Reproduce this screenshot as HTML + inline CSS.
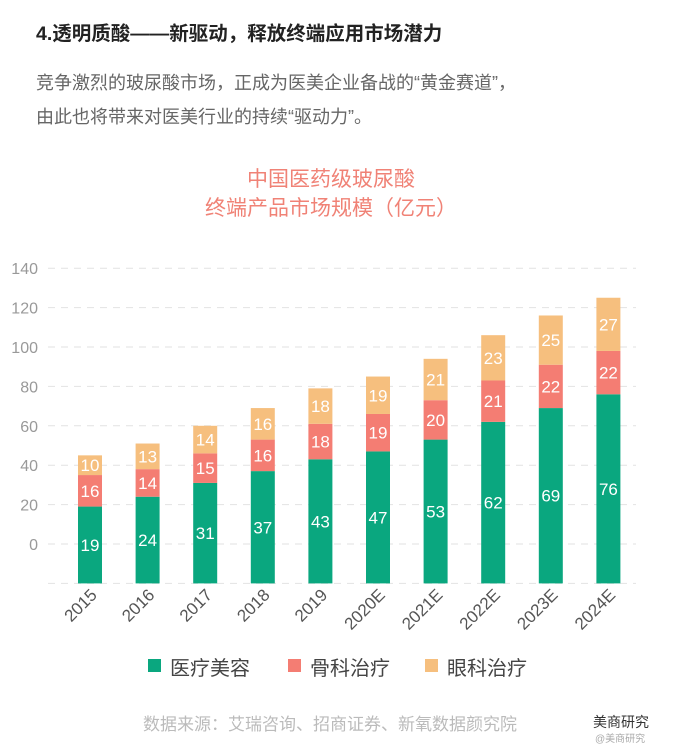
<!DOCTYPE html>
<html><head><meta charset="utf-8">
<style>
body{margin:0;width:678px;height:753px;background:#fff;overflow:hidden;font-family:"Liberation Sans","Noto Sans CJK SC",sans-serif;}
svg{position:absolute;left:0;top:0}
</style></head>
<body>
<svg width="678" height="753">
<text x="36" y="40" font-size="19.5" font-weight="bold" fill="#222">4.透明质酸——新驱动，释放终端应用市场潜力</text>
<text x="36" y="89" font-size="18" fill="#666">竞争激烈的玻尿酸市场，正成为医美企业备战的“黄金赛道”，</text>
<text x="36" y="123" font-size="18" fill="#666">由此也将带来对医美行业的持续“驱动力”。</text>
<text x="331" y="186" font-size="21" fill="#f08276" text-anchor="middle">中国医药级玻尿酸</text>
<text x="331" y="215" font-size="21" fill="#f08276" text-anchor="middle">终端产品市场规模（亿元）</text>
<g id="grid"></g><g id="bars"></g><g id="xlabels"></g>
<g>
<rect x="148" y="659" width="13" height="13" fill="#0aa77f"/>
<text x="170" y="675" font-size="20" fill="#444">医疗美容</text>
<rect x="288" y="659" width="13" height="13" fill="#f47d73"/>
<text x="310" y="675" font-size="20" fill="#444">骨科治疗</text>
<rect x="425" y="659" width="13" height="13" fill="#f6bf7e"/>
<text x="447" y="675" font-size="20" fill="#444">眼科治疗</text>
</g>
<text x="143" y="730" font-size="17" fill="#bbb">数据来源：艾瑞咨询、招商证券、新氧数据颜究院</text>
<text x="593" y="727" font-size="14" fill="#333">美商研究</text>
<text x="595" y="742" font-size="10" fill="#aaa">@美商研究</text>
</svg>
<script>
const categories=["2015","2016","2017","2018","2019","2020E","2021E","2022E","2023E","2024E"];
const cosmetic=[19,24,31,37,43,47,53,62,69,76];
const ortho=[16,14,15,16,18,19,20,21,22,22];
const eye=[10,13,14,16,18,19,21,23,25,27];
const yTicks=[0,20,40,60,80,100,120,140];
const NS="http://www.w3.org/2000/svg";
const y=v=>544-1.97*v;
const base=-20;
const x=i=>90+57.6*i;
const bw=24;
function mk(t,a){const e=document.createElementNS(NS,t);for(const k in a)e.setAttribute(k,a[k]);return e;}
const grid=document.getElementById('grid');
[base,...yTicks].forEach(v=>{
  const l=mk('line',{x1:48,x2:636,y1:y(v),y2:y(v),stroke:'#e2e2e2','stroke-width':1,'stroke-dasharray':'7,6'});
  
  
  grid.appendChild(l);
});
yTicks.forEach(v=>{
  const t=mk('text',{x:38,y:y(v)+6,'text-anchor':'end','font-size':16,fill:'#999'});
  t.textContent=v;
  
  
  grid.appendChild(t);
});
const bars=document.getElementById('bars');
const series=[[cosmetic,'#0aa77f','cosmetic'],[ortho,'#f47d73','ortho'],[eye,'#f6bf7e','eye']];
categories.forEach((c,i)=>{
  let cum=0;
  series.forEach(([arr,col,nm],si)=>{
    const v=arr[i];
    const lo=si===0?base:cum;
    const hi=cum+v;
    const r=mk('rect',{x:x(i)-bw/2,y:y(hi),width:bw,height:y(lo)-y(hi),fill:col});
    
    
    bars.appendChild(r);
    const t=mk('text',{x:x(i),y:(y(lo)+y(hi))/2+6,'text-anchor':'middle','font-size':17,fill:'#fff'});
    t.textContent=v;
    
    
    bars.appendChild(t);
    cum=hi;
  });
});
const xl=document.getElementById('xlabels');
categories.forEach((c,i)=>{
  const px=x(i)+8,py=596;
  const t=mk('text',{x:px,y:py,'text-anchor':'end','font-size':17,fill:'#555',transform:`rotate(-45 ${px} ${py})`});
  t.textContent=c;
  
  
  xl.appendChild(t);
});
</script>
</body></html>
